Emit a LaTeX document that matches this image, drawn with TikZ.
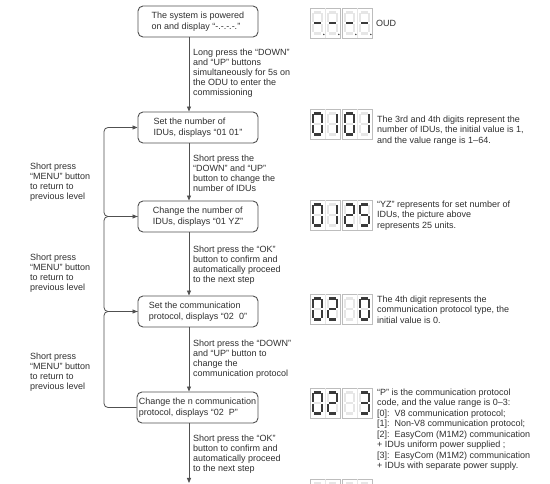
\documentclass[tikz,border=0pt]{standalone}
\usepackage{fontspec}
\setmainfont{Liberation Sans}
\usetikzlibrary{arrows.meta}
\definecolor{txt}{HTML}{2E2E2E}
\definecolor{ln}{HTML}{505050}
\definecolor{fr}{HTML}{BDBDBD}
\definecolor{segoffc}{HTML}{E6E6E6}
\definecolor{segonc}{HTML}{3A3A3A}
\newcommand\segdrawa[1]{\draw[#1] (4,4.5)--(11,4.5);}
\newcommand\segdrawb[1]{\draw[#1] (12,5.5)--(12,14);}
\newcommand\segdrawc[1]{\draw[#1] (12,16)--(12,24.5);}
\newcommand\segdrawd[1]{\draw[#1] (4,25.5)--(11,25.5);}
\newcommand\segdrawe[1]{\draw[#1] (3,16)--(3,24.5);}
\newcommand\segdrawf[1]{\draw[#1] (3,5.5)--(3,14);}
\newcommand\segdrawg[1]{\draw[#1] (4,15)--(11,15);}
\newcommand\segdrawp[1]{\fill[segonc] (13.8,26.5) circle (0.8);}
\newcommand\segdig[3]{\begin{scope}[shift={(#1,#2)}]
 \foreach \s in {a,b,c,d,e,f,g}{\csname segdraw\s\endcsname{segoff}}
 \foreach \s in {#3}{\ifcsname segdraw\s\endcsname\csname segdraw\s\endcsname{segon}\fi}
\end{scope}}
\newcommand\sevdisp[6]{%
 \draw[frame] (#1,#2) rectangle ++(30,30);
 \draw[frame] (#1+32,#2) rectangle ++(30,30);
 \draw[frame,draw=segoffc] (#1+15,#2) -- ++(0,30);
 \draw[frame,draw=segoffc] (#1+47,#2) -- ++(0,30);
 \segdig{#1}{#2}{#3}\segdig{#1+15}{#2}{#4}\segdig{#1+32}{#2}{#5}\segdig{#1+47}{#2}{#6}}
\begin{document}
\begin{tikzpicture}[x=1pt,y=-1pt,
 box/.style={draw=ln, line width=0.9pt, rounded corners=5pt, minimum width=120pt, minimum height=31pt, inner sep=2pt, align=left, font=\fontsize{9}{10.5}\selectfont, text=txt},
 lbl/.style={anchor=north west, inner sep=0pt, align=left, font=\fontsize{9}{10}\selectfont, text=txt},
 rlbl/.style={anchor=north west, inner sep=0pt, align=left, font=\fontsize{9}{10.5}\selectfont, text=txt},
 tip/.style={-{Triangle[length=5pt,width=4pt]}},
 conn/.style={draw=ln, line width=0.8pt, tip},
 loopl/.style={draw=ln, line width=0.8pt, rounded corners=4pt},
 frame/.style={draw=fr, line width=0.7pt},
 segon/.style={draw=segonc, line width=2.1pt},
 segoff/.style={draw=segoffc, line width=2.1pt}]
\path[use as bounding box] (0,0) rectangle (550,484);
\clip (0,0) rectangle (550,484);
% main boxes
\node[box] (b1) at (198,21.5) {The system is powered\\on and display “-.-.-.-.”};
\node[box] (b2) at (198,127.5) {Set the number of\\IDUs, displays “01 01”};
\node[box] (b3) at (198,216.5) {Change the number of\\IDUs, displays “01 YZ”};
\node[box] (b4) at (198,311.5) {Set the communication\\protocol, displays “02\ \ 0”};
\node[box] (b5) at (197.5,407.5) {Change the n communication\\protocol, displays “02\ \ P”};
\coordinate (ax) at (189,0);
\coordinate (lx) at (104,0);
\coordinate (end) at (189,483);
% down arrows
\draw[conn] (b1.south -| ax) -- (b2.north -| ax);
\draw[conn] (b2.south -| ax) -- (b3.north -| ax);
\draw[conn] (b3.south -| ax) -- (b4.north -| ax);
\draw[conn] (b4.south -| ax) -- (b5.north -| ax);
\draw[conn] (b5.south -| ax) -- (end);
% loops back
\draw[loopl,tip] (b3.west) -- (b3.west -| lx) -- (b2.west -| lx) -- (b2.west);
\draw[loopl,tip] (b4.west) -- (b4.west -| lx) -- (b3.west -| lx) -- (b3.west);
\draw[loopl,tip] (b5.west) -- (b5.west -| lx) -- (b4.west -| lx) -- (b4.west);
% arrow labels
\node[lbl] (l1) at (193,48.7) {Long press the “DOWN”\\and “UP” buttons\\simultaneously for 5s on\\the ODU to enter the\\commissioning};
\node[lbl] (l2) at (193,154.7) {Short press the\\“DOWN” and “UP”\\button to change the\\number of IDUs};
\node[lbl] (l3) at (193,245.7) {Short press the “OK”\\button to confirm and\\automatically proceed\\to the next step};
\node[lbl] (l4) at (193,339.7) {Short press the “DOWN”\\and “UP” button to\\change the\\communication protocol};
\node[lbl] (l5) at (193,434.7) {Short press the “OK”\\button to confirm and\\automatically proceed\\to the next step};
% left labels
\node[lbl] (m1) at (30,162.7) {Short press\\“MENU” button\\to return to\\previous level};
\node[lbl] (m2) at (30,253.7) {Short press\\“MENU” button\\to return to\\previous level};
\node[lbl] (m3) at (30,352.7) {Short press\\“MENU” button\\to return to\\previous level};
% displays
\sevdisp{310}{8}{g,p}{g,p}{g,p}{g,p}
\sevdisp{310}{109}{a,b,c,d,e,f}{b,c}{a,b,c,d,e,f}{b,c}
\sevdisp{310}{200}{a,b,c,d,e,f}{b,c}{a,b,g,e,d}{a,f,g,c,d}
\sevdisp{310}{294}{a,b,c,d,e,f}{a,b,g,e,d}{x}{a,b,c,d,e,f}
\sevdisp{310}{388}{a,b,c,d,e,f}{a,b,g,e,d}{x}{a,b,g,c,d}
\sevdisp{310}{479}{x}{x}{x}{x}
% right labels
\node[rlbl] (r1) at (376,19.7) {OUD};
\node[rlbl] (r2) at (377,115.7) {The 3rd and 4th digits represent the\\number of IDUs, the initial value is 1,\\and the value range is 1–64.};
\node[rlbl] (r3) at (377,200.7) {“YZ” represents for set number of\\IDUs, the picture above\\represents 25 units.};
\node[rlbl] (r4) at (377,295.7) {The 4th digit represents the\\communication protocol type, the\\initial value is 0.};
\node[rlbl] (r5) at (377,388.7) {“P” is the communication protocol\\code, and the value range is 0–3:\\{[0]}:\ \ V8 communication protocol;\\{[1]}:\ \ Non-V8 communication protocol;\\{[2]}:\ \ EasyCom (M1M2) communication\\+ IDUs uniform power supplied ;\\{[3]}:\ \ EasyCom (M1M2) communication\\+ IDUs with separate power supply.};
\end{tikzpicture}
\end{document}
